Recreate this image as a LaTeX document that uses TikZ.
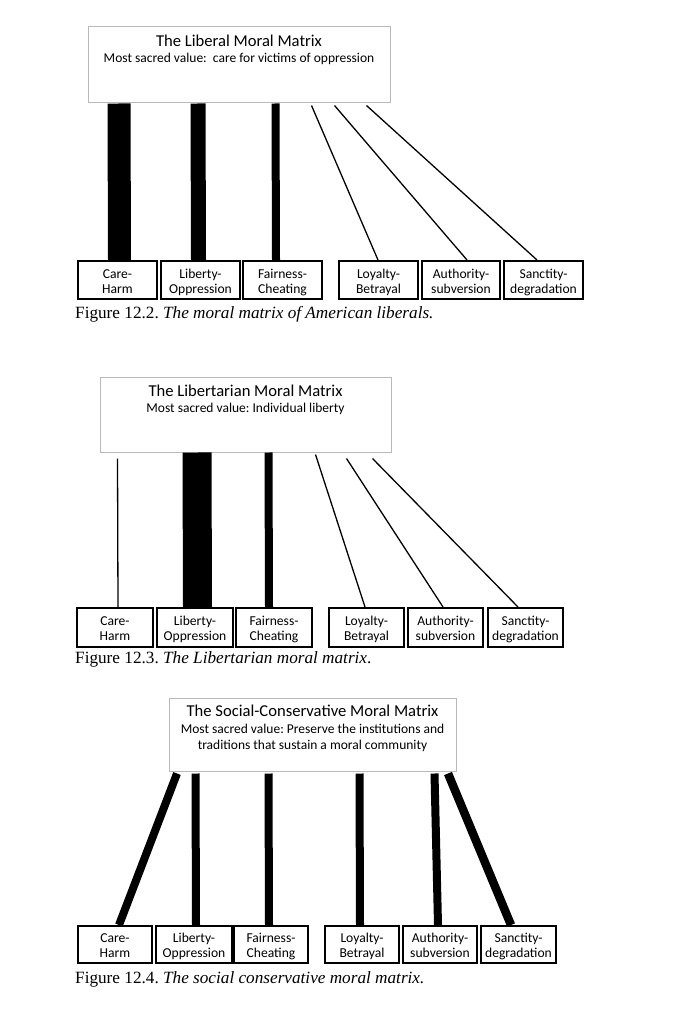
\documentclass[tikz,border=0pt]{standalone}
\usepackage{fontspec}
\setmainfont{Liberation Serif}
\newfontfamily\calib{Carlito}
\frenchspacing
\newcommand\catstrut{\rule[-1pt]{0pt}{13pt}}
\newcommand\twol[2]{\catstrut\smash{#1}\\\catstrut\smash{#2}}
\begin{document}
\begin{tikzpicture}[x=1pt,y=-1pt,
  titlebox/.style={draw=gray!55, line width=1pt, fill=white, inner sep=0pt},
  cat/.style={draw=black, line width=2pt, fill=white, inner sep=0pt, minimum height=38pt,
    align=center, font=\calib\fontsize{13.6}{15}\selectfont},
  hfont/.style={font=\calib\fontsize{16.6}{20}\selectfont, inner sep=0pt, anchor=base},
  sfont/.style={font=\calib\fontsize{13.5}{16.3}\selectfont, inner sep=0pt, anchor=base},
  capt/.style={font=\fontsize{17.2}{20}\selectfont, inner sep=0pt, anchor=base west},
  wbar/.style={line width=#1, draw=black},
  thinlink/.style={line width=1.3pt, draw=black}]
\useasboundingbox[fill=white] (0,0) rectangle (690,1024);

% ================= Figure 12.2 =================
\node[titlebox, minimum width=302pt, minimum height=76pt] (t1) at (239,65) {};
\node[hfont] (t1h) at (239,46.5) {The Liberal Moral Matrix};
\node[sfont] (t1s) at (239,63) {Most sacred value:\ \ care for victims of oppression};

\node[cat, minimum width=79pt] (a1) at (117.5,280) {\twol{Care-}{Harm}};
\node[cat, minimum width=79pt] (b1) at (200.5,280) {\twol{Liberty-}{Oppression}};
\node[cat, minimum width=79pt] (c1) at (282.5,280) {\twol{Fairness-}{Cheating}};
\node[cat, minimum width=79pt] (d1) at (378.5,280) {\twol{Loyalty-}{Betrayal}};
\node[cat, minimum width=78pt] (e1) at (461,280) {\twol{Authority-}{subversion}};
\node[cat, minimum width=79pt] (f1) at (543.5,280) {\twol{Sanctity-}{degradation}};

\draw[wbar=23pt] ([xshift=31.5pt]t1.south west) -- ([xshift=2pt]a1.north);
\draw[wbar=15pt] ([xshift=110.5pt]t1.south west) -- ([xshift=-2pt]b1.north);
\draw[wbar=8pt] ([xshift=188pt]t1.south west) -- ([xshift=-6.5pt]c1.north);
\draw[thinlink] ([xshift=224pt,yshift=-2pt]t1.south west) -- ([xshift=-0.5pt]d1.north);
\draw[thinlink] ([xshift=247pt,yshift=-2pt]t1.south west) -- ([xshift=6pt]e1.north);
\draw[thinlink] ([xshift=279pt,yshift=-2pt]t1.south west) -- ([xshift=-6.5pt]f1.north);

\node[capt] (cap1) at (75,318) {Figure 12.2. \textit{The moral matrix of American liberals.}};

% ================= Figure 12.3 =================
\node[titlebox, minimum width=291pt, minimum height=75pt] (t2) at (245.5,414.5) {};
\node[hfont] (t2h) at (245.5,396) {The Libertarian Moral Matrix};
\node[sfont] (t2s) at (245.5,412.5) {Most sacred value: Individual liberty};

\node[cat, minimum width=76pt, minimum height=39pt] (a2) at (115,627.5) {\twol{Care-}{Harm}};
\node[cat, minimum width=76pt, minimum height=39pt] (b2) at (195,627.5) {\twol{Liberty-}{Oppression}};
\node[cat, minimum width=76pt, minimum height=39pt] (c2) at (274,627.5) {\twol{Fairness-}{Cheating}};
\node[cat, minimum width=75pt, minimum height=39pt] (d2) at (366.5,627.5) {\twol{Loyalty-}{Betrayal}};
\node[cat, minimum width=75pt, minimum height=39pt] (e2) at (445.5,627.5) {\twol{Authority-}{subversion}};
\node[cat, minimum width=75pt, minimum height=39pt] (f2) at (525.5,627.5) {\twol{Sanctity-}{degradation}};

\draw[thinlink] ([xshift=18pt,yshift=-6pt]t2.south west) -- ([xshift=3pt]a2.north);
\draw[wbar=29pt] ([xshift=97.5pt]t2.south west) -- ([xshift=2.5pt]b2.north);
\draw[wbar=8pt] ([xshift=169pt]t2.south west) -- ([xshift=-5pt]c2.north);
\draw[thinlink] ([xshift=216pt,yshift=-2pt]t2.south west) -- ([xshift=-1.5pt]d2.north);
\draw[thinlink] ([xshift=247pt,yshift=-6pt]t2.south west) -- ([xshift=-2.5pt]e2.north);
\draw[thinlink] ([xshift=273pt,yshift=-6pt]t2.south west) -- ([xshift=-7.5pt]f2.north);

\node[capt] (cap2) at (75,663) {Figure 12.3. \textit{The Libertarian moral matrix}.};

% ================= Figure 12.4 =================
\node[titlebox, minimum width=287pt, minimum height=73pt] (t3) at (312.5,734.5) {};
\node[hfont] (t3h) at (312.5,716.5) {The Social-Conservative Moral Matrix};
\node[sfont] (t3s) at (312.5,733.5) {Most sacred value: Preserve the institutions and};
\node[sfont] (t3s2) at (312.5,749.5) {traditions that sustain a moral community};

\node[cat, minimum width=74pt, minimum height=37pt] (a3) at (115,944.5) {\twol{Care-}{Harm}};
\node[cat, minimum width=76pt, minimum height=37pt] (b3) at (194,944.5) {\twol{Liberty-}{Oppression}};
\node[cat, minimum width=74pt, minimum height=37pt] (c3) at (271,944.5) {\twol{Fairness-}{Cheating}};
\node[cat, minimum width=74pt, minimum height=37pt] (d3) at (362,944.5) {\twol{Loyalty-}{Betrayal}};
\node[cat, minimum width=74pt, minimum height=37pt] (e3) at (440,944.5) {\twol{Authority-}{subversion}};
\node[cat, minimum width=75pt, minimum height=37pt] (f3) at (518.5,944.5) {\twol{Sanctity-}{degradation}};

\draw[wbar=8pt] ([xshift=8.5pt,yshift=-2pt]t3.south west) -- ([xshift=4pt]a3.north);
\draw[wbar=8pt] ([xshift=27pt,yshift=-2pt]t3.south west) -- ([xshift=2pt]b3.north);
\draw[wbar=8pt] ([xshift=100pt,yshift=-2pt]t3.south west) -- ([xshift=-2pt]c3.north);
\draw[wbar=8pt] ([xshift=191pt,yshift=-2pt]t3.south west) -- ([xshift=-2pt]d3.north);
\draw[wbar=8pt] ([xshift=266pt,yshift=-2pt]t3.south west) -- ([xshift=-2pt]e3.north);
\draw[wbar=8.5pt] ([xshift=279.5pt,yshift=-2pt]t3.south west) -- ([xshift=-7.5pt]f3.north);

\node[capt] (cap3) at (75,983) {Figure 12.4. \textit{The social conservative moral matrix.}};
\end{tikzpicture}
\end{document}
